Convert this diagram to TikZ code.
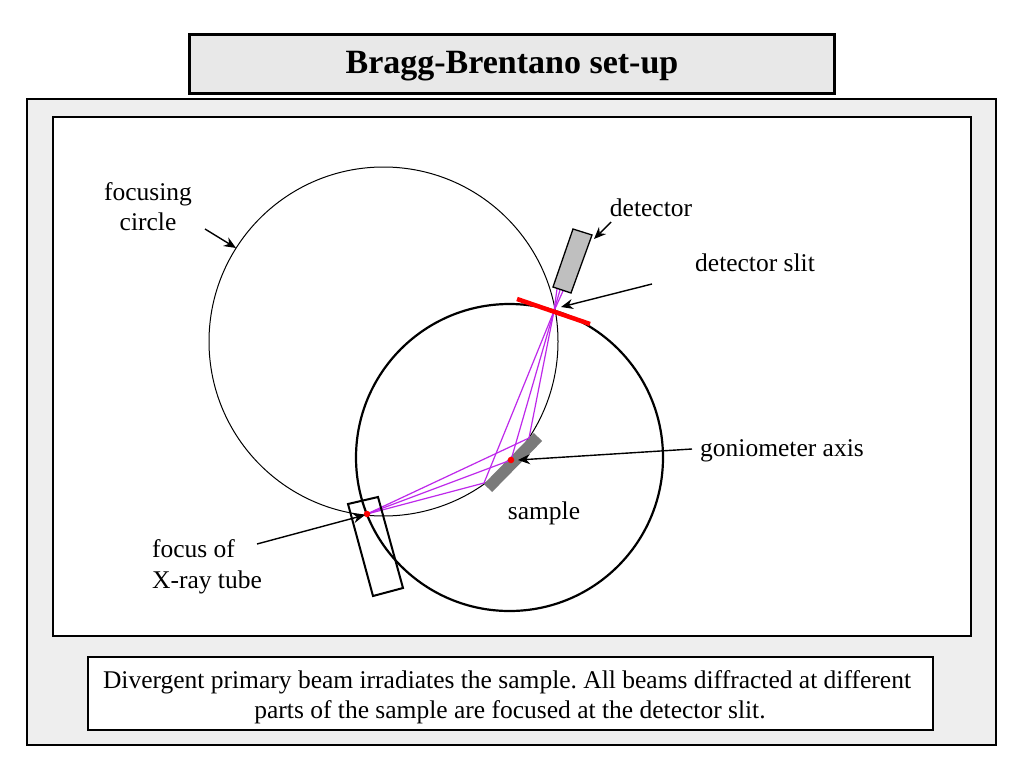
\documentclass[tikz,border=0pt]{standalone}
\usepackage{fontspec}
\setmainfont{Liberation Serif}
\usetikzlibrary{arrows.meta}
\frenchspacing
\definecolor{beamc}{RGB}{190,40,235}
\tikzset{
  x=1pt,y=-1pt,
  lbl/.style={inner sep=0pt,font=\fontsize{25.5}{30}\selectfont,align=center,text=black},
  pointer/.style={draw=black,line width=1.4pt,-{Stealth[length=12pt,width=10pt]}},
  beam/.style={draw=beamc,line width=1.2pt},
  frame/.style={draw=black,line width=2pt},
  dot/.style={circle,fill=red,inner sep=0pt,minimum size=6.5pt}
}
\begin{document}
\begin{tikzpicture}
\useasboundingbox (0,0) rectangle (1024,768);
\fill[white] (0,0) rectangle (1024,768);
% frames
\node[frame,line width=3pt,fill=black!9,minimum width=645pt,minimum height=59pt,inner sep=0pt] (titlebox) at (512,64) {};
\node[inner sep=0pt,font=\fontsize{34}{36}\selectfont\bfseries] (title) at (512,66) {Bragg-Brentano set-up};
\node[frame,fill=black!6.5,minimum width=969pt,minimum height=646pt,inner sep=0pt] (panel) at (511.5,422) {};
\node[frame,fill=white,minimum width=918pt,minimum height=519pt,inner sep=0pt] (inner) at (512,376.5) {};
\node[frame,fill=white,minimum width=845pt,minimum height=73pt,inner sep=0pt] (capbox) at (510.5,693.5) {};
\node[lbl] (cap1) at (507,682) {Divergent primary beam irradiates the sample. All beams diffracted at different};
\node[lbl] (cap2) at (510,712) {parts of the sample are focused at the detector slit.};
% circles
\node[draw=black,circle,line width=1pt,minimum size=349pt,inner sep=0pt] (fc) at (383.5,341.5) {};
\node[draw=black,circle,line width=2.2pt,minimum size=307pt,inner sep=0pt] (gc) at (509.5,457.5) {};
% sample and beam points
\coordinate (F) at (367,514);
\coordinate (S1) at (484,483);
\coordinate (S2) at (511,460);
\coordinate (S3) at (529,438);
\coordinate (X) at (554,311);
\coordinate (D1) at (557,289);
\coordinate (D2) at (560,290);
\coordinate (D3) at (563,291);
\coordinate (SA) at (488,488);
\coordinate (SB) at (538,437);
\draw[line width=11.5pt,draw=black!52] (SA) -- (SB);
\draw[beam] (F) -- (S1) -- (X) -- (D3);
\draw[beam] (F) -- (S2) -- (X) -- (D2);
\draw[beam] (F) -- (S3) -- (X) -- (D1);
% detector
\draw[draw=black,fill=black!25,line width=1.3pt] (573,229) -- (592,235) -- (571,293) -- (553,287) -- cycle;
% slit
\draw[draw=red,line width=4.5pt] (517,299) -- (590,324);
% tube
\draw[draw=black,line width=2pt] (348,504) -- (378,497) -- (403,588) -- (373,596) -- cycle;
\node[dot] (fdot) at (F) {};
\node[dot] (sdot) at (S2) {};
% labels
\node[lbl] (lfc) at (148,207) {focusing\\circle};
\node[lbl] (ldet) at (651,208) {detector};
\node[lbl] (lslit) at (755,263) {detector slit};
\node[lbl] (lgon) at (782,451) {goniometer axis};
\node[lbl] (lsam) at (544,513) {sample};
\node[lbl,align=left,font=\fontsize{25.5}{31}\selectfont] (lfoc) at (207,567) {focus of\\X-ray tube};
% pointers
\coordinate (a1) at (205,229); \coordinate (b1) at (236,248);
\coordinate (a2) at (611,222); \coordinate (b2) at (594,239);
\coordinate (a3) at (652,284); \coordinate (b3) at (561,307);
\coordinate (a4) at (692,449); \coordinate (b4) at (518,460);
\coordinate (a5) at (257,544); \coordinate (b5) at (365,515);
\draw[pointer] (a1) -- (b1);
\draw[pointer] (a2) -- (b2);
\draw[pointer] (a3) -- (b3);
\draw[pointer] (a4) -- (b4);
\draw[pointer] (a5) -- (b5);
\end{tikzpicture}
\end{document}
